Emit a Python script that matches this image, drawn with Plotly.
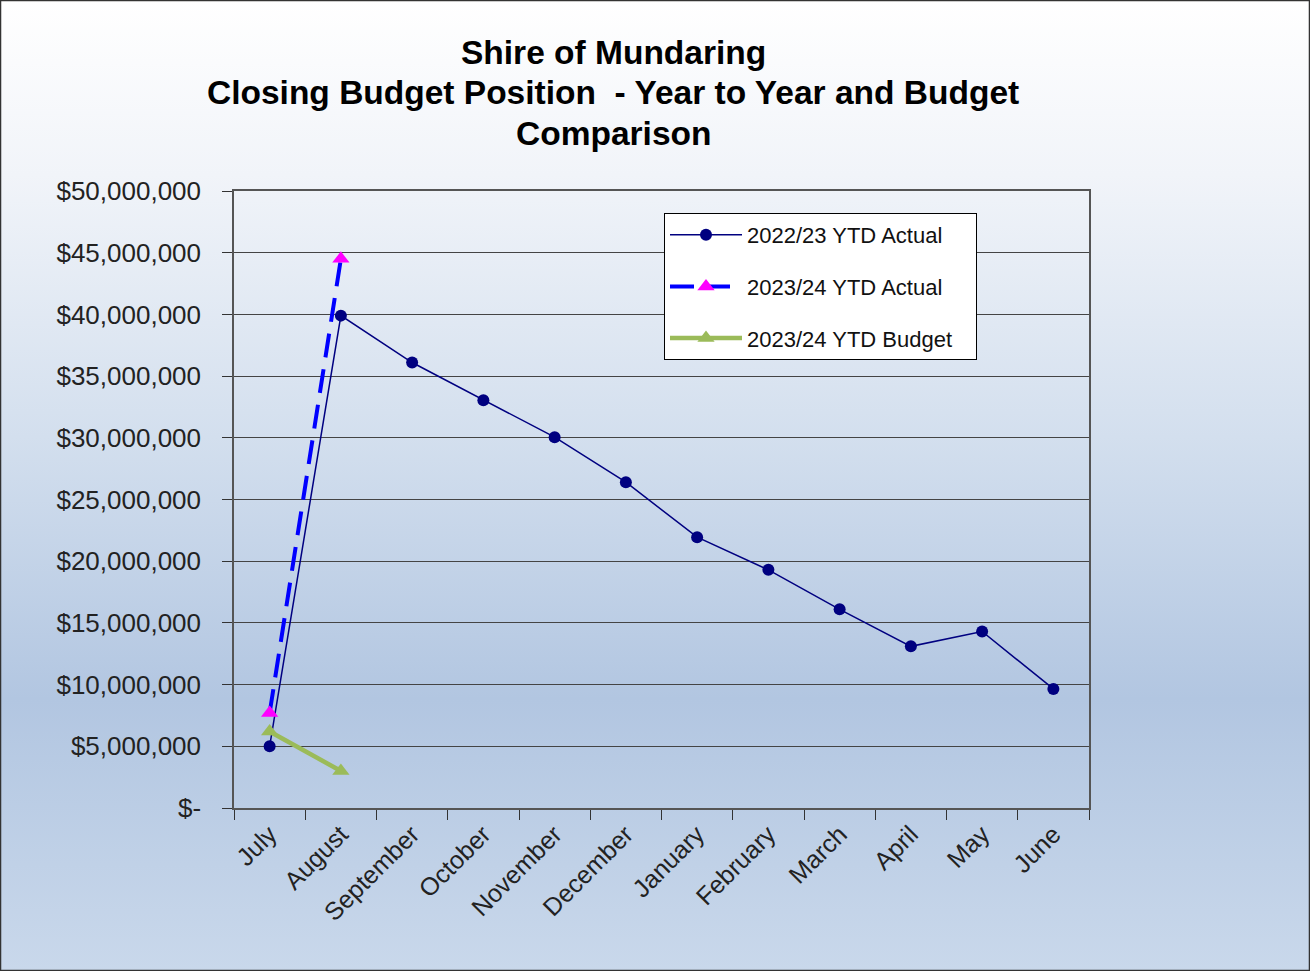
import base64
import plotly.graph_objects as go

months = ["July", "August", "September", "October", "November", "December",
          "January", "February", "March", "April", "May", "June"]
actual_2223 = [5000000, 39900000, 36100000, 33050000, 30050000, 26400000,
               21950000, 19300000, 16100000, 13100000, 14300000, 9650000]
actual_2324 = [7700000, 44500000]
budget_2324 = [6200000, 3000000]
y_tickvals = [0, 5000000, 10000000, 15000000, 20000000, 25000000,
              30000000, 35000000, 40000000, 45000000, 50000000]
y_ticktext = ["$-", "$5,000,000", "$10,000,000", "$15,000,000", "$20,000,000",
              "$25,000,000", "$30,000,000", "$35,000,000", "$40,000,000",
              "$45,000,000", "$50,000,000"]

W, H = 1310, 971
L, R, T, B = 234, 1089, 191, 808
pw, ph = R - L, B - T

svg = f'''<svg xmlns="http://www.w3.org/2000/svg" width="{W}" height="{H}" preserveAspectRatio="none">
<defs><linearGradient id="g" x1="0" y1="0" x2="0" y2="1">
<stop offset="0" stop-color="#ffffff"/>
<stop offset="0.18" stop-color="#f1f4f9"/>
<stop offset="0.45" stop-color="#d3dfee"/>
<stop offset="0.72" stop-color="#b2c6e1"/>
<stop offset="1" stop-color="#c9d8eb"/>
</linearGradient></defs>
<rect x="0" y="0" width="{W}" height="{H}" fill="url(#g)"/>
</svg>'''
src = "data:image/svg+xml;base64," + base64.b64encode(svg.encode()).decode()

font = "Liberation Sans, Arial, sans-serif"
pad = "\u00a0\u00a0\u00a0"

fig = go.Figure()
fig.add_trace(go.Scatter(
    x=months, y=actual_2223, name="2022/23 YTD Actual" + pad, mode="lines+markers",
    line=dict(color="#000080", width=1.5),
    marker=dict(symbol="circle", size=12, color="#000080"),
    legendgroup="a"))
fig.add_trace(go.Scatter(
    x=months[:2], y=actual_2324, name="2023/24 YTD Actual" + pad, mode="lines+markers",
    line=dict(color="#0000ff", width=4, dash="24px,12px"),
    marker=dict(symbol="triangle-up", size=15, color="#ff00ff"),
    legendgroup="b"))
fig.add_trace(go.Scatter(
    x=months[:2], y=budget_2324, name="2023/24 YTD Budget" + pad, mode="lines+markers",
    line=dict(color="#9bbb59", width=4.5),
    marker=dict(symbol="triangle-up", size=15, color="#9bbb59"),
    legendgroup="c"))

titles = ["Shire of Mundaring", "Closing Budget Position  - Year to Year and Budget", "Comparison"]
ann = []
for i, t in enumerate(titles):
    ycen = 53 + 40 * i
    ann.append(dict(text=f"<b>{t}</b>", xref="paper", yref="paper",
                    x=(613 - L) / pw, y=1 + (T - ycen) / ph,
                    xanchor="center", yanchor="middle", showarrow=False,
                    font=dict(family=font, size=33.5, color="#000000")))

fig.update_layout(
    width=W, height=H,
    margin=dict(l=L, r=W - R, t=T, b=H - B, pad=0),
    paper_bgcolor="#ffffff",
    plot_bgcolor="#f2f2f2",
    showlegend=True,
    legend=dict(x=(664 - L) / pw, y=1 - (213 - T) / ph, xanchor="left", yanchor="top",
                bgcolor="#ffffff", bordercolor="#000000", borderwidth=1,
                font=dict(family=font, size=22, color="#111111"),
                itemwidth=72, tracegroupgap=20),
    annotations=ann,
    images=[dict(source=src, xref="paper", yref="paper",
                 x=-L / pw, y=1 + T / ph, sizex=W / pw, sizey=H / ph,
                 xanchor="left", yanchor="top", sizing="stretch", layer="below")],
    shapes=[dict(type="rect", xref="paper", yref="paper",
                 x0=-L / pw + 0.0006, x1=(W - L) / pw - 0.0006,
                 y0=-(H - B) / ph + 0.0008, y1=1 + T / ph - 0.0008,
                 line=dict(color="#333333", width=1.5))],
)

fig.update_xaxes(
    type="category", categoryorder="array", categoryarray=months,
    tickson="boundaries", ticks="outside", ticklen=10, tickcolor="#333333",
    tickangle=-45, tickfont=dict(family=font, size=25, color="#222222"),
    showline=True, linecolor="#555555", linewidth=1.5, mirror=True,
    showgrid=False, zeroline=False, range=[-0.5, 11.5])
fig.update_yaxes(
    range=[0, 50000000], tickvals=y_tickvals, ticktext=y_ticktext,
    ticks="outside", ticklen=10, tickcolor="#333333",
    tickfont=dict(family=font, size=26, color="#222222"),
    ticklabelstandoff=16,
    showline=True, linecolor="#555555", linewidth=1.5, mirror=True,
    showgrid=True, gridcolor="#444444", gridwidth=1, zeroline=False)

fig.write_html("out.html", config={"displayModeBar": False},
               post_script="document.body.style.margin='0';")
